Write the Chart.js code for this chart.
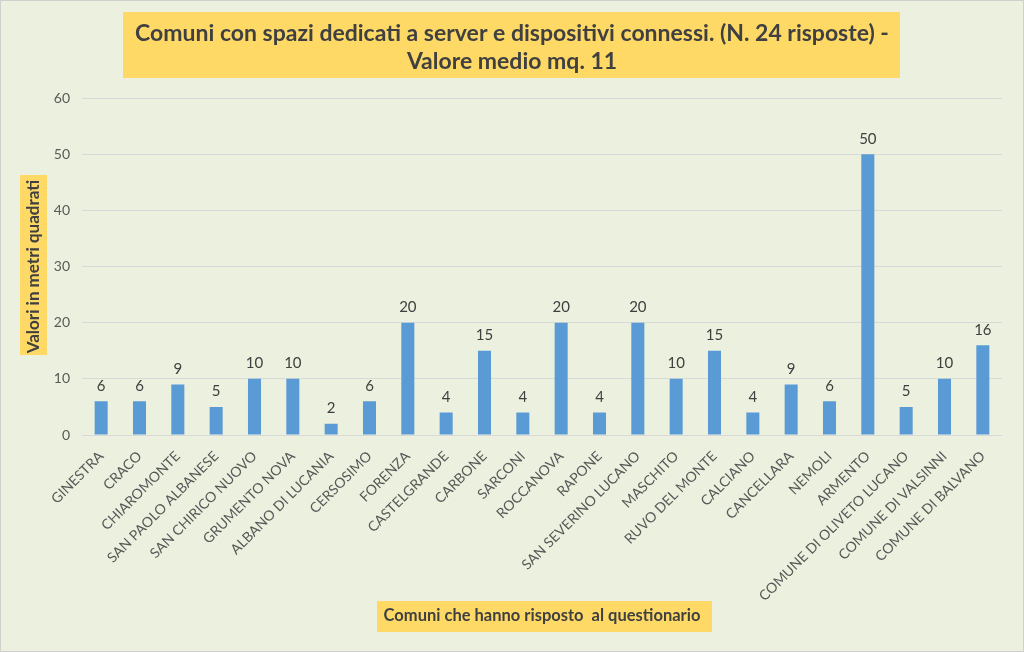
<!DOCTYPE html>
<html>
<head>
<meta charset="utf-8">
<script src="https://cdn.jsdelivr.net/npm/chart.js@4/dist/chart.umd.min.js"></script>
<style>
  html, body { margin: 0; padding: 0; background: #ebf1de; }
  #wrap { width: 1024px; height: 652px; }
</style>
</head>
<body>
<div id="wrap"><canvas id="chart" width="1024" height="652"></canvas></div>
<script>
// Chart data
const comuni = [
  "GINESTRA", "CRACO", "CHIAROMONTE", "SAN PAOLO ALBANESE", "SAN CHIRICO NUOVO",
  "GRUMENTO NOVA", "ALBANO DI LUCANIA", "CERSOSIMO", "FORENZA", "CASTELGRANDE",
  "CARBONE", "SARCONI", "ROCCANOVA", "RAPONE", "SAN SEVERINO LUCANO", "MASCHITO",
  "RUVO DEL MONTE", "CALCIANO", "CANCELLARA", "NEMOLI", "ARMENTO",
  "COMUNE DI OLIVETO LUCANO", "COMUNE DI VALSINNI", "COMUNE DI BALVANO"
];
const metriQuadri = [6, 6, 9, 5, 10, 10, 2, 6, 20, 4, 15, 4, 20, 4, 20, 10, 15, 4, 9, 6, 50, 5, 10, 16];
const titleLines = [
  "Comuni con spazi dedicati a server e dispositivi connessi. (N. 24 risposte) -",
  "Valore medio mq. 11"
];
const yTitle = "Valori in metri quadrati";
const xTitle = "Comuni che hanno risposto  al questionario";

const FONT = "Lato, 'Open Sans', sans-serif";
const TEXT = "#404040";

// background, border and the yellow boxes behind titles
const boxesPlugin = {
  id: "boxes",
  beforeDraw(chart) {
    const ctx = chart.ctx;
    ctx.save();
    ctx.fillStyle = "#ebf1de";
    ctx.fillRect(0, 0, chart.width, chart.height);
    ctx.strokeStyle = "#d0d0d0";
    ctx.lineWidth = 1;
    ctx.strokeRect(0.5, 0.5, chart.width - 1, chart.height - 1);
    ctx.fillStyle = "#ffd966";
    ctx.fillRect(123, 12, 777, 66);   // main title
    ctx.fillRect(20, 175, 27, 180);   // y title
    ctx.fillRect(377, 601, 335, 31);  // x title
    ctx.restore();
  }
};

// value labels above bars
const valuesPlugin = {
  id: "values",
  afterDatasetsDraw(chart) {
    const ctx = chart.ctx;
    const meta = chart.getDatasetMeta(0);
    ctx.save();
    ctx.fillStyle = TEXT;
    ctx.font = "15px " + FONT;
    ctx.textAlign = "center";
    ctx.textBaseline = "bottom";
    meta.data.forEach((bar, i) => {
      ctx.fillText(String(metriQuadri[i]), bar.x, bar.y - 8);
    });
    ctx.restore();
  }
};

new Chart(document.getElementById("chart"), {
  type: "bar",
  data: {
    labels: comuni,
    datasets: [{
      data: metriQuadri,
      backgroundColor: "#5b9bd5",
      barPercentage: 0.34,
      categoryPercentage: 1.0
    }]
  },
  options: {
    responsive: false,
    animation: false,
    layout: { padding: 0 },
    plugins: {
      legend: { display: false },
      tooltip: { enabled: false },
      title: {
        display: true,
        text: titleLines,
        color: TEXT,
        font: { family: FONT, size: 23, weight: "bold", lineHeight: 1.2 },
        padding: { top: 20, bottom: 23 }
      }
    },
    scales: {
      x: {
        grid: { display: false },
        border: { display: false },
        ticks: {
          color: "#595959",
          font: { family: FONT, size: 14 },
          minRotation: 45,
          maxRotation: 45,
          autoSkip: false,
          padding: 5
        },
        title: {
          display: true,
          text: xTitle,
          color: TEXT,
          font: { family: FONT, size: 16.5, weight: "bold", lineHeight: 1.2 },
          padding: { top: 0, bottom: 26 }
        },
        afterFit(scale) { scale.height = 217; }
      },
      y: {
        min: 0,
        max: 60,
        grid: { color: "#d9d9d9", drawTicks: false },
        border: { display: false },
        ticks: {
          stepSize: 10,
          color: "#595959",
          font: { family: FONT, size: 14 },
          padding: 12
        },
        title: {
          display: true,
          text: yTitle,
          color: TEXT,
          font: { family: FONT, size: 17, weight: "bold", lineHeight: 1.2 },
          padding: { top: 23, bottom: 0 }
        },
        afterFit(scale) { scale.width = 82; }
      },
      // empty right-hand strip so the title centres on the whole picture
      gap: {
        axis: "y",
        position: "right",
        min: 0,
        max: 60,
        grid: { display: false },
        border: { display: false },
        ticks: { display: false },
        afterFit(scale) { scale.width = 22; }
      }
    }
  },
  plugins: [boxesPlugin, valuesPlugin]
});
</script>
</body>
</html>
